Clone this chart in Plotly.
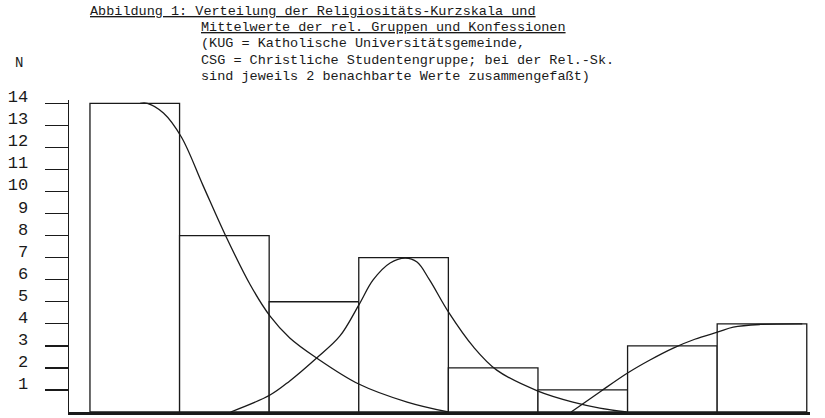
import plotly.graph_objects as go

# ---- data ----
bar_positions = [0, 1, 2, 3, 4, 5, 6, 7]
bar_counts = [14, 8, 5, 7, 2, 1, 3, 4]
y_ticks = list(range(1, 15))

# curve 1 (falling)
c1_x = [0.06, 0.14, 0.32, 0.52, 0.76, 1.01, 1.29, 1.51, 1.73, 2.03, 2.50, 3.04, 3.50]
c1_y = [14.0, 14.0, 13.56, 12.47, 10.29, 8.03, 5.76, 4.35, 3.36, 2.45, 1.27, 0.45, 0.0]
# curve 2 (bell shaped)
c2_x = [1.07, 1.51, 1.73, 2.03, 2.29, 2.50, 2.66, 2.85, 3.02, 3.15, 3.29, 3.50, 3.78, 4.04, 4.50, 4.89, 5.19, 5.49]
c2_y = [0.0, 0.77, 1.41, 2.45, 3.45, 4.85, 5.99, 6.76, 6.98, 6.80, 5.99, 4.54, 2.95, 1.90, 0.95, 0.45, 0.18, 0.0]
# curve 3 (rising)
c3_x = [4.87, 5.19, 5.50, 5.75, 6.01, 6.25, 6.51, 6.68, 6.98, 7.45]
c3_y = [0.0, 0.91, 1.77, 2.36, 2.90, 3.30, 3.63, 3.85, 3.97, 4.0]

title_lines = [
    "<u>Abbildung 1: Verteilung der Religiositäts-Kurzskala und</u>",
    "<u>Mittelwerte der rel. Gruppen und Konfessionen</u>",
    "(KUG = Katholische Universitätsgemeinde,",
    "CSG = Christliche Studentengruppe; bei der Rel.-Sk.",
    "sind jeweils 2 benachbarte Werte zusammengefaßt)",
]

# ---- layout helpers (page pixels) ----
W, H = 825, 418
ML, MR, MT, MB = 69, 15, 100, 6
PW, PH = W - ML - MR, H - MT - MB
FONT = "Liberation Mono"
INK = "#1a1a1a"

def px_x(p):
    return (p - ML) / PW

def px_y(p):
    return (H - MB - p) / PH

fig = go.Figure()
fig.add_trace(go.Bar(
    x=bar_positions, y=bar_counts, width=1.0,
    marker=dict(color="white", line=dict(color=INK, width=1.3)),
    showlegend=False, hoverinfo="skip",
))
for cx, cy in [(c1_x, c1_y), (c2_x, c2_y), (c3_x, c3_y)]:
    fig.add_trace(go.Scatter(
        x=cx, y=cy, mode="lines",
        line=dict(color=INK, width=1.3, shape="spline", smoothing=1.0),
        showlegend=False, hoverinfo="skip",
    ))

title_pos = [(88, 12), (199, 28), (199, 44), (199, 60), (199, 76)]
annotations = []
for txt, (x0, y0) in zip(title_lines, title_pos):
    annotations.append(dict(
        text=txt, xref="paper", yref="paper", x=px_x(x0), y=px_y(y0),
        xanchor="left", yanchor="middle", showarrow=False,
        font=dict(family=FONT, size=13.5, color=INK),
    ))
annotations.append(dict(
    text="N", xref="paper", yref="paper", x=px_x(19), y=px_y(63),
    xanchor="center", yanchor="middle", showarrow=False,
    font=dict(family=FONT, size=14, color=INK),
))

fig.update_layout(
    width=W, height=H,
    margin=dict(l=ML, r=MR, t=MT, b=MB, autoexpand=False),
    paper_bgcolor="white", plot_bgcolor="white",
    bargap=0, annotations=annotations,
    xaxis=dict(
        range=[-0.734, 7.536], showgrid=False, zeroline=False,
        showticklabels=False, ticks="", showline=True,
        linecolor=INK, linewidth=2.5,
    ),
    yaxis=dict(
        range=[0, 14.15], showgrid=False, zeroline=False,
        tickvals=y_ticks, ticktext=[str(v) for v in y_ticks],
        ticks="outside", ticklen=23, tickwidth=1.4, tickcolor=INK,
        showline=True, linecolor=INK, linewidth=1.4,
        tickfont=dict(family=FONT, size=17, color=INK),
        ticklabelstandoff=13, ticklabelshift=-7,
    ),
)

fig.write_html(
    "out.html",
    config={"displayModeBar": False, "staticPlot": True},
    post_script="document.body.style.margin='0';document.body.style.overflow='hidden';",
)
